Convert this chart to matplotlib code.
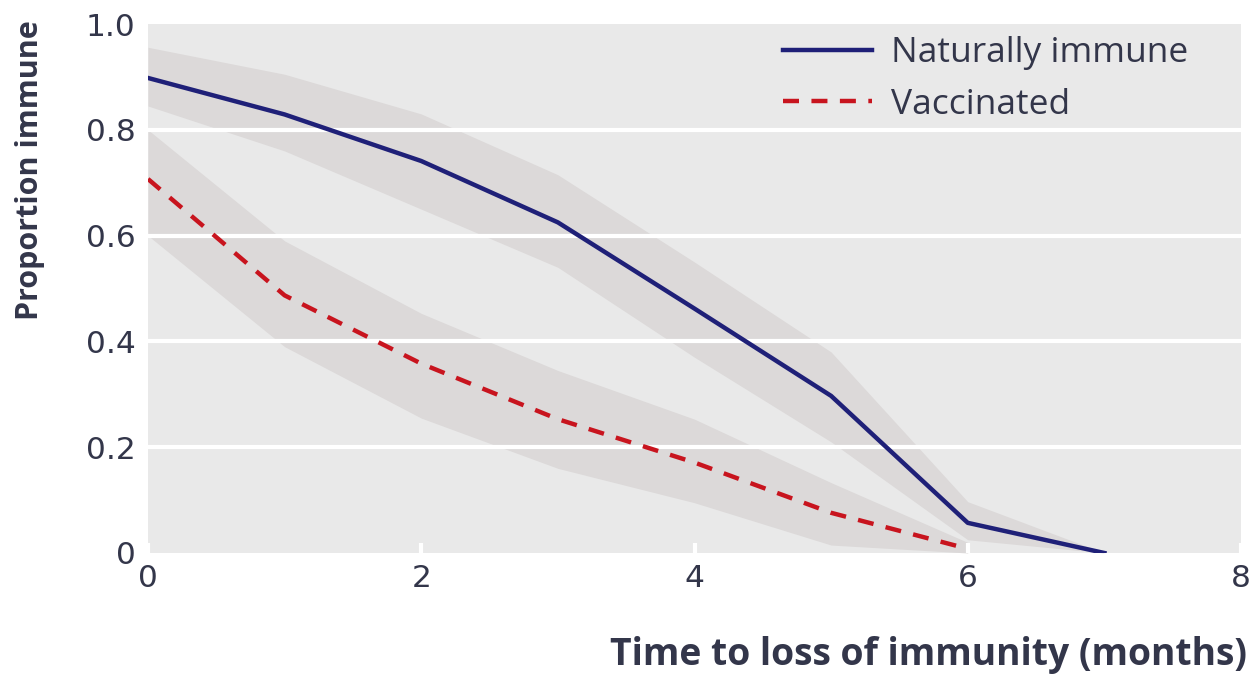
import matplotlib
matplotlib.use("Agg")
import matplotlib.pyplot as plt

plt.rcParams["font.family"] = ["Open Sans", "DejaVu Sans"]

# 月份
months = [0, 1, 2, 3, 4, 5, 6, 7]

# 自然免疫：中位数与区间
natural = [0.898, 0.829, 0.741, 0.625, 0.462, 0.297, 0.057, 0.0]
natural_lo = [0.845, 0.76, 0.65, 0.54, 0.37, 0.21, 0.025, 0.0]
natural_hi = [0.956, 0.905, 0.83, 0.715, 0.55, 0.38, 0.097, 0.0]

# 疫苗接种：中位数与区间
vacc_months = [0, 1, 2, 3, 4, 5, 6]
vaccinated = [0.707, 0.487, 0.358, 0.253, 0.171, 0.076, 0.008]
vacc_lo = [0.60, 0.39, 0.255, 0.16, 0.095, 0.015, 0.0]
vacc_hi = [0.80, 0.59, 0.453, 0.345, 0.253, 0.133, 0.02]

x_ticks = [0, 2, 4, 6, 8]
y_ticks = [0, 0.2, 0.4, 0.6, 0.8, 1.0]
y_tick_labels = ["0", "0.2", "0.4", "0.6", "0.8", "1.0"]

bg = "#e9e9e9"
band = "#dcd9d9"
navy = "#1f2078"
red = "#c8141e"
text_col = "#33364a"

fig = plt.figure(figsize=(12.54, 6.74), dpi=100)
ax = fig.add_axes([148 / 1254, 1 - 553 / 674, 1093 / 1254, 529 / 674])
ax.set_facecolor(bg)
for s in ax.spines.values():
    s.set_visible(False)

ax.fill_between(months, natural_lo, natural_hi, color=band, lw=0, zorder=1)
ax.fill_between(vacc_months, vacc_lo, vacc_hi, color=band, lw=0, zorder=1)

# 白色网格线
for yv in [0.2, 0.4, 0.6, 0.8]:
    ax.axhline(yv, color="white", lw=3, zorder=2)

ax.plot(months, natural, color=navy, lw=3.2, zorder=3, label="Naturally immune")
ax.plot(vacc_months, vaccinated, color=red, lw=3.2, zorder=3,
        dashes=(3.6, 2.8), label="Vaccinated")

ax.set_xlim(0, 8)
ax.set_ylim(0, 1.0)
ax.set_xticks(x_ticks)
ax.set_xticklabels([str(v) for v in x_ticks])
ax.set_yticks(y_ticks)
ax.set_yticklabels(y_tick_labels)
for lab in ax.get_xticklabels() + ax.get_yticklabels():
    lab.set_fontfamily("DejaVu Sans")
    lab.set_fontsize(22.5)
ax.tick_params(axis="x", direction="in", color="white", length=7, width=3,
               pad=8, labelcolor=text_col)
ax.tick_params(axis="y", length=0, pad=9, labelcolor=text_col)

leg = ax.legend(loc="upper left", bbox_to_anchor=(0.581, 0.977), frameon=False,
                fontsize=25.5, handlelength=2.5, handletextpad=0.56,
                labelspacing=0.5, borderpad=0, borderaxespad=0,
                labelcolor=text_col)

fig.text(30 / 1254, 1 - 170 / 674, "Proportion immune", rotation=90,
         ha="center", va="center", fontsize=22, fontweight="bold", color=text_col)
fig.text(1247 / 1254, 1 - 655 / 674, "Time to loss of immunity (months)",
         ha="right", va="center", fontsize=26.8, fontweight="bold", color=text_col)

fig.savefig("out.png", dpi=100)
